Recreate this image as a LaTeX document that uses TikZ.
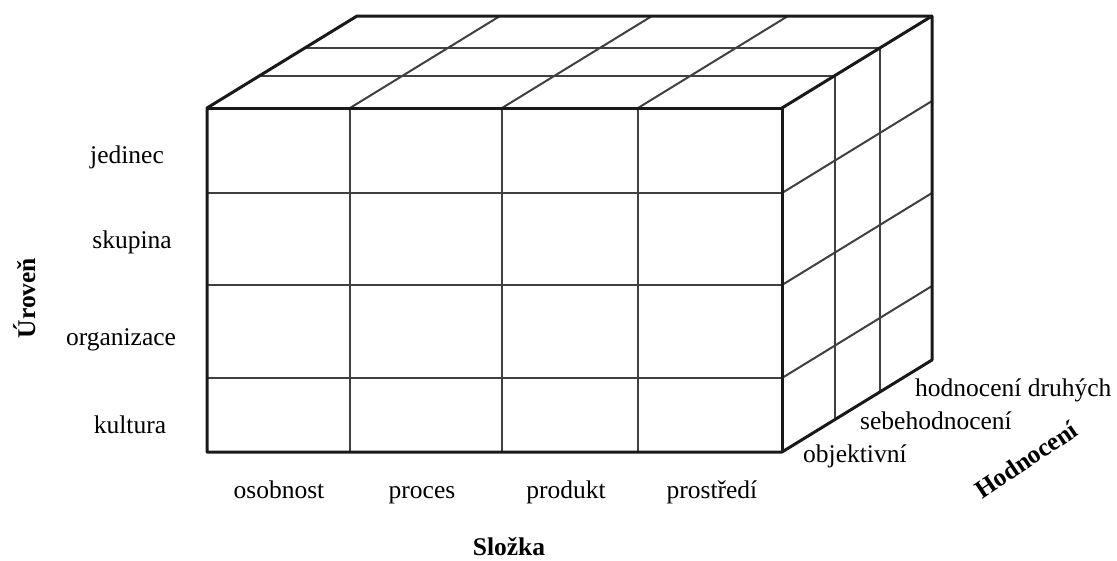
\documentclass[tikz,border=0pt]{standalone}
\usepackage{fontspec}
\setmainfont{Liberation Serif}
\usetikzlibrary{positioning}
\tikzset{edgeline/.style = {line width = 3pt, line join = round, black!90}}
\tikzset{gridline/.style = {line width = 2pt, black!75}}
\tikzset{lbl/.style = {font = \fontsize{25.5}{30}\selectfont, inner sep = 0}}
\tikzset{axislbl/.style = {font = \fontsize{25.5}{30}\selectfont\bfseries, inner sep = 0}}

\begin{document}
\begin{tikzpicture}[x=1pt, y=-1pt]
  \useasboundingbox (0,0) rectangle (1117,560);

  % corners of the block
  \coordinate (fa) at (207,108);
  \coordinate (fb) at (782,108);
  \coordinate (fc) at (782,452);
  \coordinate (fd) at (207,452);
  \coordinate (ba) at (357,16);
  \coordinate (bb) at (932,16);
  \coordinate (bc) at (932,360);

  % front face cells
  \foreach \x in {350,502,638}
    \draw [gridline] (\x,108) -- (\x,452);
  \foreach \y in {193,285,378}
    \draw [gridline] (207,\y) -- (782,\y);

  % top face cells
  \foreach \x in {350,502,638}
    \draw [gridline] (\x,108) -- ++(150,-92);
  \foreach \t in {0.35,0.655}
    \draw [gridline] (207+150*\t,108-92*\t) -- ++(575,0);

  % side face cells
  \foreach \y in {193,285,378}
    \draw [gridline] (782,\y) -- ++(150,-92);
  \foreach \t in {0.35,0.655}
    \draw [gridline] (782+150*\t,108-92*\t) -- ++(0,344);

  % outline
  \draw [edgeline] (fd) -- (fa) -- (ba) -- (bb) -- (bc) -- (fc) -- cycle;
  \draw [edgeline] (fa) -- (fb) -- (fc);
  \draw [edgeline] (fb) -- (bb);

  % levels
  \node [lbl, anchor=base] (jedinec) at (127,163) {jedinec};
  \node [lbl, anchor=base] (skupina) at (132,248) {skupina};
  \node [lbl, anchor=base] (organizace) at (121,345) {organizace};
  \node [lbl, anchor=base] (kultura) at (130,433) {kultura};
  \node [axislbl, anchor=base, rotate=90] (uroven) at (35,298) {Úroveň};

  % components
  \node [lbl, anchor=base] (osobnost) at (279,498) {osobnost};
  \node [lbl, anchor=base] (proces) at (422,498) {proces};
  \node [lbl, anchor=base] (produkt) at (566,498) {produkt};
  \node [lbl, anchor=base] (prostredi) at (712,498) {prostředí};
  \node [axislbl, anchor=base] (slozka) at (509,555) {Složka};

  % evaluation
  \node [lbl, anchor=base west] (objektivni) at (803,462) {objektivní};
  \node [lbl, anchor=base west] (sebehodnoceni) at (860,429) {sebehodnocení};
  \node [lbl, anchor=base west] (druhych) at (915,396) {hodnocení druhých};
  \node [axislbl, anchor=base, rotate=34] (hodnoceni) at (1031,467) {Hodnocení};
\end{tikzpicture}
\end{document}
